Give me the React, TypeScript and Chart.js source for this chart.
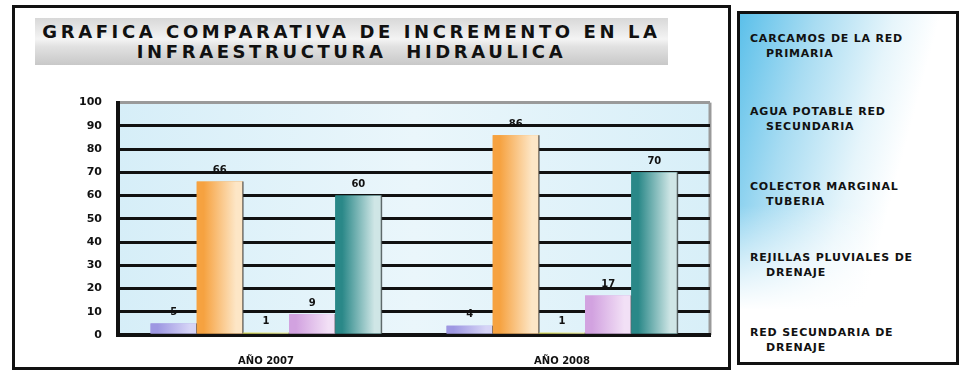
import React, { useEffect, useRef } from "react";
import { Chart, registerables } from "chart.js";

Chart.register(...registerables);

const TITLE_LINES = ["GRAFICA COMPARATIVA DE INCREMENTO EN LA", "INFRAESTRUCTURA  HIDRAULICA"];
const CATEGORIES = ["AÑO 2007", "AÑO 2008"];
const SERIES_NAMES = [
  ["CARCAMOS DE LA RED", "PRIMARIA"],
  ["AGUA POTABLE RED", "SECUNDARIA"],
  ["COLECTOR MARGINAL", "TUBERIA"],
  ["REJILLAS PLUVIALES DE", "DRENAJE"],
  ["RED SECUNDARIA DE", "DRENAJE"],
];
const CARCAMOS = [5, 4];
const AGUA_POTABLE = [66, 86];
const COLECTOR = [1, 1];
const REJILLAS = [9, 17];
const RED_DRENAJE = [60, 70];
const Y_MAX = 100;
const Y_STEP = 10;

const SERIES_VALUES = [CARCAMOS, AGUA_POTABLE, COLECTOR, REJILLAS, RED_DRENAJE];
const DARK = ["#9e98e2", "#f6a240", "#dede60", "#d2a2e0", "#2a8888"];
const LIGHT = ["#d6d4f6", "#fde6c6", "#f6f6c0", "#f2e0f6", "#cfe6e6"];

const bgPlugin = {
  id: "bgPlugin",
  beforeDraw(chart: any) {
    const { ctx, chartArea } = chart;
    if (!chartArea) return;
    const g = ctx.createLinearGradient(chartArea.left, 0, chartArea.right, 0);
    g.addColorStop(0, "#d6eef8");
    g.addColorStop(0.5, "#eaf6fb");
    g.addColorStop(1, "#d8eff8");
    ctx.save();
    ctx.fillStyle = g;
    ctx.fillRect(chartArea.left, chartArea.top, chartArea.right - chartArea.left, chartArea.bottom - chartArea.top);
    ctx.strokeStyle = "#9a9a9a";
    ctx.lineWidth = 3;
    ctx.beginPath();
    ctx.moveTo(chartArea.right, chartArea.top);
    ctx.lineTo(chartArea.right, chartArea.bottom);
    ctx.stroke();
    ctx.restore();
  },
};

const barPlugin = {
  id: "barPlugin",
  afterDatasetsDraw(chart: any) {
    const { ctx } = chart;
    ctx.save();
    chart.data.datasets.forEach((ds: any, di: number) => {
      const meta = chart.getDatasetMeta(di);
      meta.data.forEach((el: any, i: number) => {
        const { x, y, base, width } = el.getProps(["x", "y", "base", "width"], true);
        const left = x - width / 2;
        const g = ctx.createLinearGradient(left, 0, left + width, 0);
        g.addColorStop(0, DARK[di]);
        g.addColorStop(0.15, DARK[di]);
        g.addColorStop(0.85, LIGHT[di]);
        g.addColorStop(1, LIGHT[di]);
        ctx.fillStyle = g;
        ctx.fillRect(left, y, width, base - y);
        ctx.strokeStyle = "rgba(60,60,60,0.7)";
        ctx.lineWidth = 1.5;
        ctx.beginPath();
        ctx.moveTo(left + width, y);
        ctx.lineTo(left + width, base);
        ctx.stroke();
        ctx.fillStyle = "#111";
        ctx.font = "bold 10px 'DejaVu Sans'";
        ctx.textAlign = "center";
        ctx.textBaseline = "bottom";
        ctx.fillText(String(ds.data[i]), x, y - 6);
      });
    });
    ctx.restore();
  },
};

function BarChart() {
  const ref = useRef<HTMLCanvasElement>(null);
  useEffect(() => {
    if (!ref.current) return;
    const chart = new Chart(ref.current, {
      type: "bar",
      data: {
        labels: CATEGORIES,
        datasets: SERIES_VALUES.map((vals, i) => ({
          label: SERIES_NAMES[i].join(" "),
          data: vals,
          backgroundColor: DARK[i],
          borderWidth: 0,
          categoryPercentage: 0.78,
          barPercentage: 1,
        })),
      },
      options: {
        animation: false,
        responsive: false,
        maintainAspectRatio: false,
        layout: { padding: { top: 15, right: 15, left: 0, bottom: 0 } },
        plugins: { legend: { display: false }, title: { display: false }, tooltip: { enabled: false } },
        scales: {
          x: {
            grid: { display: false },
            border: { display: true, color: "#111", width: 4 },
            ticks: { color: "#111", font: { family: "DejaVu Sans", weight: "bold", size: 10 }, padding: 12 },
            afterFit: (s: any) => { s.height = 35; },
          },
          y: {
            min: 0,
            max: Y_MAX,
            ticks: { stepSize: Y_STEP, color: "#111", font: { family: "DejaVu Sans", weight: "bold", size: 11 }, padding: 16 },
            grid: {
              color: (c: any) => (c.tick && c.tick.value === Y_MAX ? "#9a9a9a" : "#111"),
              lineWidth: 3,
              drawTicks: false,
            },
            border: { display: true, color: "#111", width: 4 },
            afterFit: (s: any) => { s.width = 58; },
          },
        },
      },
      plugins: [bgPlugin, barPlugin],
    });
    return () => chart.destroy();
  }, []);
  return <canvas ref={ref} width={665} height={290} style={{ position: "absolute", left: 60, top: 80 }} />;
}

export default function App() {
  const bold: React.CSSProperties = { fontFamily: "'DejaVu Sans', sans-serif", fontWeight: "bold", color: "#111" };
  const itemTops = [31, 104, 179, 250, 325];
  return (
    <div style={{ position: "absolute", left: 0, top: 0, width: 961, height: 372, background: "#fff", overflow: "hidden" }}>
      <div style={{ position: "absolute", left: 12, top: 5, width: 719, height: 365, border: "3px solid #111", boxSizing: "border-box" }} />
      <div
        style={{
          position: "absolute", left: 35, top: 18, width: 633, height: 47,
          background: "linear-gradient(to bottom, #d8d8d8 0%, #f4f4f4 45%, #e2e2e2 60%, #c8c8c8 100%)",
        }}
      />
      {TITLE_LINES.map((t, i) => (
        <div
          key={i}
          style={{
            ...bold, position: "absolute", left: 35, width: 633, top: 22 + i * 20, textAlign: "center",
            fontSize: 18, lineHeight: "20px", letterSpacing: 3.6, whiteSpace: "pre",
          }}
        >
          {t}
        </div>
      ))}
      <BarChart />
      <div
        style={{
          position: "absolute", left: 737, top: 11, width: 222, height: 354, border: "3px solid #111", boxSizing: "border-box",
          background: "linear-gradient(105deg, #5cc0ea 0%, #a8dcf2 25%, #e6f5fb 50%, #ffffff 65%)",
        }}
      >
        <div style={{ position: "absolute", left: 0, top: 0, right: 0, bottom: 0, background: "linear-gradient(to bottom, rgba(255,255,255,0) 55%, rgba(255,255,255,1) 85%)" }} />
      </div>
      {SERIES_NAMES.map((n, i) => (
        <div key={i} style={{ ...bold, position: "absolute", left: 750, top: itemTops[i], fontSize: 11, lineHeight: "15px", letterSpacing: 0.8, whiteSpace: "nowrap" }}>
          <div>{n[0]}</div>
          <div style={{ paddingLeft: 16 }}>{n[1]}</div>
        </div>
      ))}
    </div>
  );
}
